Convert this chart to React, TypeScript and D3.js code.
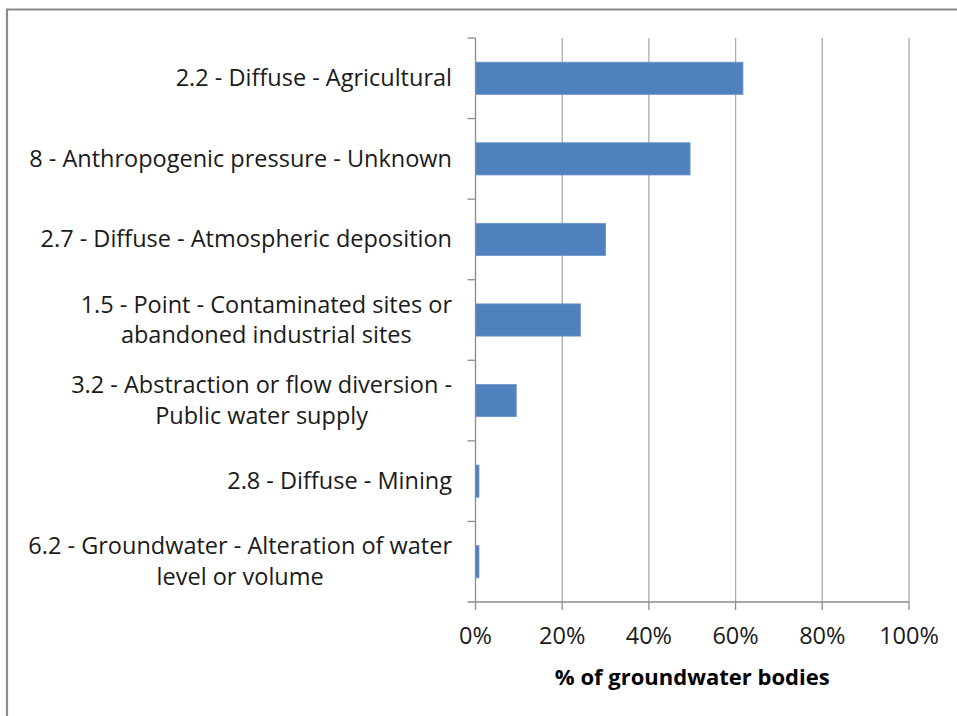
import { useEffect, useRef } from "react";
import * as d3 from "d3";

const CATEGORIES = [
  "2.2 - Diffuse - Agricultural",
  "8 - Anthropogenic pressure - Unknown",
  "2.7 - Diffuse - Atmospheric deposition",
  "1.5 - Point - Contaminated sites or\nabandoned industrial sites",
  "3.2 - Abstraction or flow diversion -\nPublic water supply",
  "2.8 - Diffuse - Mining",
  "6.2 - Groundwater - Alteration of water\nlevel or volume",
];
const VALUES = [0.617, 0.495, 0.3, 0.242, 0.094, 0.008, 0.008];
const X_TICKS = [0, 0.2, 0.4, 0.6, 0.8, 1.0];
const X_TITLE = "% of groundwater bodies";

const W = 957;
const H = 716;
const PLOT = { left: 475.5, right: 909, top: 38, bottom: 602 };
const FONT = "'Open Sans', Lato, sans-serif";
const FS = 23.5;
const LABEL_RIGHT = 452;
const LINE_H = 30.5;

export default function App() {
  const svgRef = useRef<SVGSVGElement>(null);

  useEffect(() => {
    document.body.style.margin = "0";
    if (!svgRef.current) return;
    const svg = d3.select(svgRef.current);
    svg.selectAll("*").remove();

    // outer chart frame (only top and left edges visible)
    svg.append("path")
      .attr("d", `M7,${H + 5} V9.5 H${W + 5}`)
      .attr("fill", "none")
      .attr("stroke", "#8a8a8a")
      .attr("stroke-width", 2.2);

    const x = d3.scaleLinear().domain([0, 1]).range([PLOT.left, PLOT.right]);
    const y = d3
      .scaleBand<string>()
      .domain(CATEGORIES)
      .range([PLOT.top, PLOT.bottom])
      .paddingInner(0.6)
      .paddingOuter(0.3);
    const step = y.step();

    // vertical gridlines
    svg.append("g")
      .selectAll("line")
      .data(X_TICKS.filter((t) => t > 0))
      .join("line")
      .attr("x1", (d) => x(d))
      .attr("x2", (d) => x(d))
      .attr("y1", PLOT.top)
      .attr("y2", PLOT.bottom)
      .attr("stroke", "#ababab")
      .attr("stroke-width", 1.3);

    // bars
    svg.append("g")
      .selectAll("rect")
      .data(CATEGORIES)
      .join("rect")
      .attr("x", x(0))
      .attr("y", (d) => y(d)!)
      .attr("width", (_, i) => x(VALUES[i]) - x(0))
      .attr("height", y.bandwidth())
      .attr("fill", "#4f81bd")
      .attr("stroke", "#6f97cb")
      .attr("stroke-width", 0.8);

    // y axis
    const yAxis = svg.append("g").attr("stroke", "#8c8c8c").attr("stroke-width", 1.3);
    yAxis.append("line")
      .attr("x1", x(0)).attr("x2", x(0))
      .attr("y1", PLOT.top).attr("y2", PLOT.bottom);
    const boundaries = CATEGORIES.map((c) => y(c)! - (step * y.paddingInner()) / 2);
    yAxis.selectAll("line.tick")
      .data(boundaries)
      .join("line")
      .attr("class", "tick")
      .attr("x1", x(0) - 8).attr("x2", x(0))
      .attr("y1", (d) => d).attr("y2", (d) => d);

    // x axis
    const xAxis = svg.append("g").attr("stroke", "#8c8c8c").attr("stroke-width", 1.3);
    xAxis.append("line")
      .attr("x1", x(0) - 8).attr("x2", x(1))
      .attr("y1", PLOT.bottom).attr("y2", PLOT.bottom);
    xAxis.selectAll("line.tick")
      .data(X_TICKS)
      .join("line")
      .attr("class", "tick")
      .attr("x1", (d) => x(d)).attr("x2", (d) => x(d))
      .attr("y1", PLOT.bottom).attr("y2", PLOT.bottom + 8);

    svg.append("g")
      .selectAll("text")
      .data(X_TICKS)
      .join("text")
      .attr("x", (d) => x(d))
      .attr("y", 644)
      .attr("text-anchor", "middle")
      .attr("font-family", FONT)
      .attr("font-size", FS)
      .attr("fill", "#1a1a1a")
      .text((d) => d3.format(".0%")(d));

    svg.append("text")
      .attr("x", (x(0) + x(1)) / 2)
      .attr("y", 685)
      .attr("text-anchor", "middle")
      .attr("font-family", FONT)
      .attr("font-size", 22)
      .attr("font-weight", "bold")
      .attr("fill", "#000")
      .text(X_TITLE);

    // category labels: centred lines, block right-aligned to the axis
    const labels = svg.append("g");
    CATEGORIES.forEach((c) => {
      const lines = c.split("\n");
      const cy = y(c)! + y.bandwidth() / 2;
      const g = labels.append("g");
      const texts = lines.map((ln, j) =>
        g.append("text")
          .attr("y", cy + (j - (lines.length - 1) / 2) * LINE_H + 8)
          .attr("text-anchor", "middle")
          .attr("font-family", FONT)
          .attr("font-size", FS)
          .attr("fill", "#1a1a1a")
          .text(ln),
      );
      const maxW = d3.max(texts, (t) => (t.node() as SVGTextElement).getComputedTextLength()) ?? 0;
      texts.forEach((t) => t.attr("x", LABEL_RIGHT - maxW / 2));
    });
  }, []);

  return <svg ref={svgRef} width={W} height={H} style={{ display: "block", background: "#fff" }} />;
}
